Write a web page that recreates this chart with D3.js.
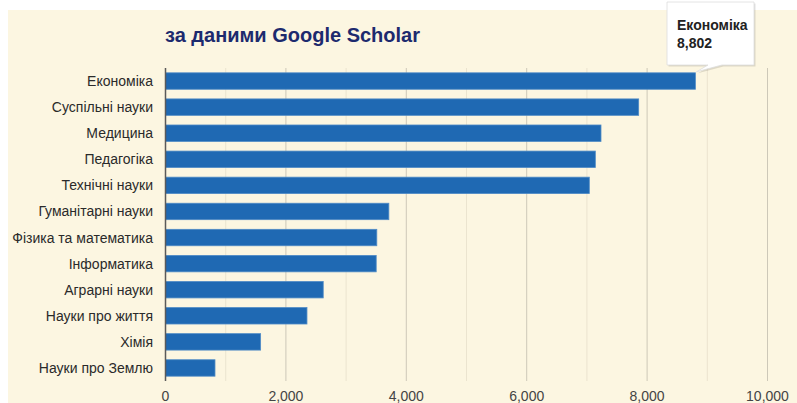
<!DOCTYPE html>
<html>
<head>
<meta charset="utf-8">
<script src="https://cdn.jsdelivr.net/npm/d3@7"></script>
<style>
  body { margin: 0; background: #fff; }
  text { font-family: "Liberation Sans", Arial, sans-serif; }
</style>
</head>
<body>
<div id="plot"></div>
<script>
// Categories (top to bottom)
var categories = [
  "Економіка", "Суспільні науки", "Медицина", "Педагогіка", "Технічні науки",
  "Гуманітарні науки", "Фізика та математика", "Інформатика", "Аграрні науки",
  "Науки про життя", "Хімія", "Науки про Землю"
];

// Number of publications
var values = [8802, 7860, 7234, 7140, 7040, 3710, 3510, 3500, 2620, 2350, 1580, 822];

// Tick labels on the x-axis
var majorTicks = [0, 2000, 4000, 6000, 8000, 10000];
var minorTicks = [1000, 3000, 5000, 7000, 9000];

var titleText = "за даними Google Scholar";

function init() {
  var w = 797, h = 403;
  var left = 165.5, right = 767.5, top = 68, bottom = 381;

  var svg = d3.select("#plot").append("svg")
    .attr("width", w)
    .attr("height", h);

  // Panel background
  svg.append("rect")
    .attr("x", 8).attr("y", 10)
    .attr("width", w - 8).attr("height", h - 10)
    .attr("fill", "#fcf6e1");

  var xScale = d3.scaleLinear()
    .domain([0, 10000])
    .range([left, right]);

  var yScale = d3.scaleBand()
    .domain(categories)
    .range([top, bottom])
    .paddingInner(0.37)
    .paddingOuter(0.185);

  // Gridlines
  svg.selectAll("line.minor")
    .data(minorTicks)
    .enter().append("line")
    .attr("class", "minor")
    .attr("x1", function(d) { return xScale(d); })
    .attr("x2", function(d) { return xScale(d); })
    .attr("y1", top).attr("y2", bottom)
    .attr("stroke", "#ebe4cf").attr("stroke-width", 1);

  svg.selectAll("line.major")
    .data(majorTicks.slice(1))
    .enter().append("line")
    .attr("class", "major")
    .attr("x1", function(d) { return xScale(d); })
    .attr("x2", function(d) { return xScale(d); })
    .attr("y1", top).attr("y2", bottom)
    .attr("stroke", "#cdc8b8").attr("stroke-width", 1);

  // Bars
  svg.selectAll("rect.bar")
    .data(values)
    .enter().append("rect")
    .attr("class", "bar")
    .attr("x", xScale(0))
    .attr("y", function(d, i) { return yScale(categories[i]); })
    .attr("width", function(d) { return xScale(d) - xScale(0); })
    .attr("height", yScale.bandwidth())
    .attr("fill", "#1f69b3")
    .attr("stroke", "#4f8bc6")
    .attr("stroke-width", 0.8);

  // y-axis line
  svg.append("line")
    .attr("x1", left).attr("x2", left)
    .attr("y1", top).attr("y2", bottom)
    .attr("stroke", "#5a5a5a").attr("stroke-width", 1.5);

  // Category labels
  svg.selectAll("text.cat")
    .data(categories)
    .enter().append("text")
    .attr("class", "cat")
    .attr("x", 153)
    .attr("y", function(d) { return yScale(d) + yScale.bandwidth() / 2; })
    .attr("dy", "0.36em")
    .attr("text-anchor", "end")
    .attr("font-size", 14)
    .attr("fill", "#2a2a2a")
    .text(function(d) { return d; });

  // x-axis tick labels
  var fmt = d3.format(",");
  svg.selectAll("text.tick")
    .data(majorTicks)
    .enter().append("text")
    .attr("class", "tick")
    .attr("x", function(d) { return xScale(d); })
    .attr("y", 401)
    .attr("text-anchor", "middle")
    .attr("font-size", 14)
    .attr("fill", "#444")
    .text(function(d) { return fmt(d); });

  // Title
  svg.append("text")
    .attr("x", 165)
    .attr("y", 42)
    .attr("font-size", 20)
    .attr("font-weight", "bold")
    .attr("fill", "#1d2a6e")
    .text(titleText);

  // Tooltip for the top bar
  var tipX = xScale(values[0]) + 1;
  var tipY = yScale(categories[0]) - 1;
  var tip = svg.append("g");
  var shape = "M667,2 L754,2 L754,65 L722,65 L" + tipX + "," + tipY + " L708,65 L667,65 Z";
  tip.append("path")
    .attr("d", shape)
    .attr("fill", "#000").attr("opacity", 0.12)
    .attr("transform", "translate(1.5,1.5)");
  tip.append("path")
    .attr("d", shape)
    .attr("fill", "#fff")
    .attr("stroke", "#ddd").attr("stroke-width", 0.8);
  tip.append("text")
    .attr("x", 677).attr("y", 30)
    .attr("font-size", 14).attr("font-weight", "bold").attr("fill", "#222")
    .text(categories[0]);
  tip.append("text")
    .attr("x", 677).attr("y", 48)
    .attr("font-size", 14).attr("font-weight", "bold").attr("fill", "#222")
    .text(fmt(values[0]));
}

window.onload = init;
</script>
</body>
</html>
